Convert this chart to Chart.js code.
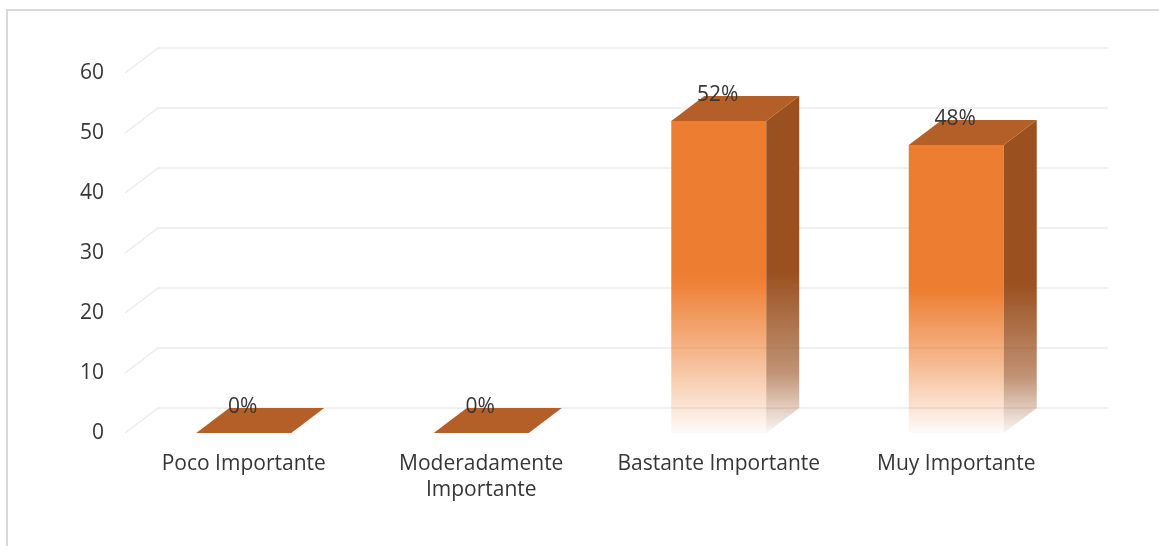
<!DOCTYPE html>
<html>
<head>
<meta charset="utf-8">
<script src="https://cdn.jsdelivr.net/npm/chart.js@4/dist/chart.umd.min.js"></script>
<style>
  html, body { margin: 0; padding: 0; background: #ffffff; }
  #wrap { width: 1159px; height: 546px; position: relative; }
</style>
</head>
<body>
<div id="wrap"><canvas id="c" width="1159" height="546"></canvas></div>
<script>
const categories = ["Poco Importante", ["Moderadamente", "Importante"], "Bastante Importante", "Muy Importante"];
const values = [0, 0, 52, 48];
const valueLabels = ["0%", "0%", "52%", "48%"];
const yTicks = [0, 10, 20, 30, 40, 50, 60];

const DEPTH_X = 33, DEPTH_Y = 25;
const FONT = '"Open Sans", "Noto Sans", sans-serif';
const TEXT = '#363636';

function frontFill(ctx) {
  const chart = ctx.chart;
  const ys = chart.scales && chart.scales.y;
  if (!ys || ys.top === undefined || ctx.raw === undefined) return '#ED7D31';
  const top = ys.getPixelForValue(ctx.raw);
  const base = ys.getPixelForValue(0);
  if (!(base > top)) return '#ED7D31';
  const g = chart.ctx.createLinearGradient(0, top, 0, base);
  g.addColorStop(0, 'rgba(237,125,49,1)');
  g.addColorStop(0.5, 'rgba(237,125,49,1)');
  g.addColorStop(0.75, 'rgba(237,125,49,0.55)');
  g.addColorStop(1, 'rgba(237,125,49,0.03)');
  return g;
}

const frame3d = {
  id: 'frame3d',
  beforeDraw(chart) {
    const c = chart.ctx;
    c.save();
    c.strokeStyle = '#d9d9d9';
    c.lineWidth = 2;
    c.beginPath();
    c.moveTo(7, 546); c.lineTo(7, 10); c.lineTo(1159, 10);
    c.stroke();
    const ys = chart.scales.y, area = chart.chartArea;
    c.strokeStyle = '#ececec';
    c.lineWidth = 1.5;
    ys.ticks.forEach(t => {
      const y = ys.getPixelForValue(t.value);
      c.beginPath();
      c.moveTo(area.left, y);
      c.lineTo(area.left + DEPTH_X, y - DEPTH_Y);
      c.lineTo(area.right + DEPTH_X, y - DEPTH_Y);
      c.stroke();
    });
    c.restore();
  },
  afterDatasetsDraw(chart) {
    const c = chart.ctx;
    const meta = chart.getDatasetMeta(0);
    c.save();
    meta.data.forEach((bar, i) => {
      const p = bar.getProps(['x', 'y', 'base', 'width'], true);
      const l = p.x - p.width / 2, r = p.x + p.width / 2;
      const top = p.y, base = p.base;
      if (base - top > 0.5) {
        const g = c.createLinearGradient(0, top - DEPTH_Y, 0, base);
        g.addColorStop(0, 'rgba(154,80,31,1)');
        g.addColorStop(0.52, 'rgba(154,80,31,1)');
        g.addColorStop(0.82, 'rgba(154,80,31,0.62)');
        g.addColorStop(1, 'rgba(154,80,31,0.05)');
        c.fillStyle = g;
        c.beginPath();
        c.moveTo(r, top);
        c.lineTo(r + DEPTH_X, top - DEPTH_Y);
        c.lineTo(r + DEPTH_X, base - DEPTH_Y);
        c.lineTo(r, base);
        c.closePath();
        c.fill();
      }
      c.fillStyle = '#B45F27';
      c.beginPath();
      c.moveTo(l, top);
      c.lineTo(r, top);
      c.lineTo(r + DEPTH_X, top - DEPTH_Y);
      c.lineTo(l + DEPTH_X, top - DEPTH_Y);
      c.closePath();
      c.fill();
      c.fillStyle = TEXT;
      c.font = '21px ' + FONT;
      c.textAlign = 'center';
      c.textBaseline = 'middle';
      c.fillText(valueLabels[i], p.x - 1, top - DEPTH_Y - 1);
    });
    c.restore();
  }
};

new Chart(document.getElementById('c'), {
  type: 'bar',
  data: {
    labels: categories,
    datasets: [{
      data: values,
      backgroundColor: frontFill,
      borderWidth: 0,
      barPercentage: 0.4,
      categoryPercentage: 1.0
    }]
  },
  options: {
    responsive: false,
    animation: false,
    devicePixelRatio: 1,
    layout: { padding: { top: 73, right: 84, left: 0, bottom: 0 } },
    plugins: { legend: { display: false }, tooltip: { enabled: false } },
    scales: {
      x: {
        grid: { display: false, drawTicks: false },
        border: { display: false },
        ticks: {
          color: TEXT,
          font: { family: FONT, size: 21, lineHeight: 1.25 },
          padding: 18,
          maxRotation: 0,
          autoSkip: false
        },
        afterFit(s) { s.height = 113; }
      },
      y: {
        min: 0, max: 60,
        afterBuildTicks(s) { s.ticks = yTicks.map(v => ({ value: v })); },
        grid: { display: false, drawTicks: false },
        border: { display: false },
        ticks: {
          color: TEXT,
          font: { family: FONT, size: 21 },
          padding: 21
        },
        afterFit(s) { s.width = 125; }
      }
    }
  },
  plugins: [frame3d]
});
</script>
</body>
</html>
